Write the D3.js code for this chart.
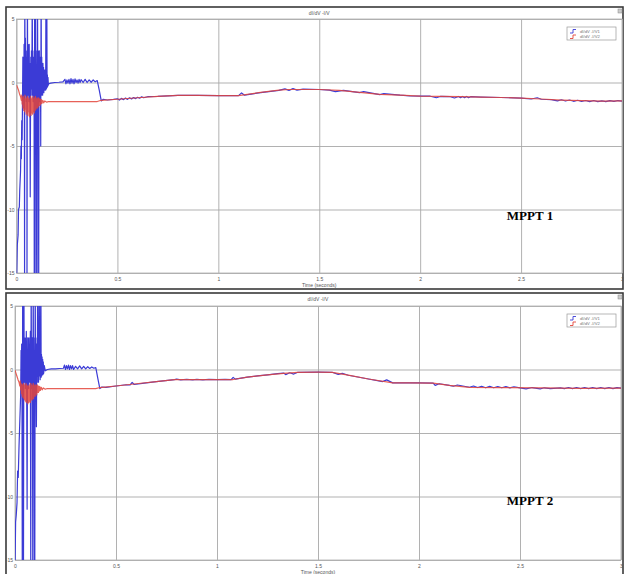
<!DOCTYPE html>
<html><head><meta charset="utf-8">
<script src="https://cdn.jsdelivr.net/npm/d3@7"></script>
<style>html,body{margin:0;padding:0;background:#fff}svg{display:block}</style>
</head><body>
<svg id="chart" width="624" height="574"></svg>
<script>
// ---- data ----
const tickX = [0, 0.5, 1, 1.5, 2, 2.5, 3];
const tickXLabels = ["0", "0.5", "1", "1.5", "2", "2.5", "3"];
const tickY = [5, 0, -5, -10, -15];
const tickYLabels = ["5", "0", "-5", "-10", "-15"];
const panelTitles = ["dI/dV   -I/V", "dI/dV   -I/V"];
const seriesNames = ["dI/dV   -I/V1", "dI/dV   -I/V2"];
const panelLabels = ["MPPT 1", "MPPT 2"];
const xTitle = "Time (seconds)";

// MPPT 1 : blue (series 1)
const p1Blue = [
 [0,-16],[0.004,-12.8],[0.008,-12],[0.01,-10],[0.014,-9.8],[0.016,-8.5],[0.02,-7],[0.022,-5],[0.024,-6],[0.026,-3],[0.028,-4.5],
 [0.030,-1],[0.0315,2],[0.033,-0.5],[0.0345,1.5],[0.036,-2],[0.0375,3],[0.039,-1],[0.04,-16],[0.041,8],[0.0425,0.5],
 [0.044,3.5],[0.0455,-1],[0.047,2.5],[0.0485,-1.5],[0.05,2],[0.0515,-0.5],[0.052,-16],[0.054,8],[0.0555,0],[0.057,3],
 [0.0585,-1],[0.06,2.5],[0.0615,-1.5],[0.063,3],[0.0645,-1],[0.066,1.5],[0.068,-9],[0.0695,-2],[0.071,2],[0.0725,-1],
 [0.074,2.5],[0.0755,-0.5],[0.077,3],[0.078,8],[0.0795,-1],[0.081,2.5],[0.0825,-1.5],[0.084,2],[0.0855,-1],[0.087,1.5],
 [0.088,-16],[0.09,8],[0.092,-16],[0.094,8],[0.0955,-1],[0.097,2.5],[0.0985,-1.5],[0.1,-16],[0.102,-16],[0.104,8],
 [0.1055,-1],[0.107,2.5],[0.1085,-1],[0.11,-16],[0.1115,0.5],[0.113,2.5],[0.1145,-1.5],[0.116,2],[0.1175,-1],[0.119,1.5],
 [0.12,-5],[0.122,8],[0.1235,-1],[0.125,2],[0.1265,-0.5],[0.128,1.5],[0.1295,-1],[0.131,1.5],[0.1325,-0.8],[0.134,1.2],
 [0.1355,-0.8],[0.137,1],[0.1385,-0.6],[0.14,0.8],[0.1415,-0.5],[0.143,1],[0.1445,-0.6],[0.146,8],[0.148,-0.5],[0.15,8],
 [0.1515,-0.4],[0.153,0.6],[0.1545,-0.3],[0.156,0.4],[0.158,-0.2],[0.16,-0.1],[0.17,-0.05],[0.19,0.0],[0.21,0.02],[0.23,0.05],
 [0.24,0.25],[0.245,-0.1],[0.25,0.2],[0.255,-0.05],[0.26,0.25],[0.265,-0.1],[0.27,0.3],[0.275,-0.05],[0.28,0.25],[0.285,-0.1],
 [0.29,0.28],[0.295,0.0],[0.3,0.2],[0.305,-0.05],[0.31,0.25],[0.315,0.0],[0.32,0.22],[0.33,0.0],[0.34,0.25],[0.35,0.0],
 [0.36,0.2],[0.37,0.02],[0.38,0.2],[0.39,0.05],[0.4,0.15],[0.41,-0.6],[0.42,-1.45],[0.43,-1.32],[0.45,-1.38],[0.48,-1.33],
 [0.5,-1.28],[0.51,-1.38],[0.52,-1.25],[0.53,-1.35],[0.54,-1.22],[0.55,-1.33],[0.56,-1.2],[0.57,-1.3],[0.58,-1.18],[0.59,-1.27],
 [0.6,-1.16],[0.61,-1.24],[0.62,-1.13],[0.63,-1.2],[0.65,-1.12],[0.7,-1.1],[0.75,-1.05],[0.8,-1.02],[0.9,-1.02],[1.0,-1.03],
 [1.1,-1.03],[1.115,-0.82],[1.13,-1.0],[1.2,-0.82],[1.3,-0.62],[1.33,-0.5],[1.35,-0.62],[1.37,-0.48],[1.39,-0.6],[1.42,-0.52],
 [1.5,-0.55],[1.55,-0.6],[1.58,-0.72],[1.62,-0.62],[1.7,-0.8],[1.72,-0.72],[1.8,-0.95],[1.82,-0.88],[1.9,-1.0],[1.95,-1.05],
 [2.0,-1.07],[2.05,-1.08],[2.08,-1.2],[2.1,-1.1],[2.15,-1.12],[2.17,-1.22],[2.19,-1.1],[2.2,-1.2],[2.21,-1.1],[2.22,-1.2],
 [2.23,-1.1],[2.24,-1.2],[2.25,-1.12],[2.3,-1.15],[2.4,-1.18],[2.5,-1.23],[2.55,-1.3],[2.58,-1.2],[2.6,-1.32],[2.65,-1.35],
 [2.68,-1.45],[2.7,-1.36],[2.72,-1.46],[2.74,-1.38],[2.76,-1.48],[2.78,-1.4],[2.8,-1.48],[2.82,-1.42],[2.84,-1.5],[2.86,-1.42],
 [2.88,-1.5],[2.9,-1.44],[2.92,-1.5],[2.94,-1.43],[2.96,-1.49],[2.98,-1.42],[3.0,-1.46]
];
// MPPT 1 : red (series 2)
const p1Red = [
 [0,-0.2],[0.005,-0.4],[0.01,-0.6],[0.015,-0.9],[0.02,-1.1],[0.024,-1.4],[0.026,-1.0],[0.028,-1.7],[0.03,-1.2],[0.032,-2.0],
 [0.034,-1.1],[0.036,-2.2],[0.038,-1.3],[0.04,-2.3],[0.042,-1.0],[0.044,-2.1],[0.046,-1.3],[0.048,-2.5],[0.05,-1.2],[0.052,-2.4],
 [0.054,-1.1],[0.056,-2.6],[0.058,-1.3],[0.06,-2.3],[0.062,-1.2],[0.064,-2.7],[0.066,-1.4],[0.068,-2.5],[0.07,-1.1],[0.072,-2.6],
 [0.074,-1.3],[0.076,-2.4],[0.078,-1.2],[0.08,-2.5],[0.082,-1.1],[0.084,-2.3],[0.086,-1.3],[0.088,-2.4],[0.09,-1.2],[0.092,-2.2],
 [0.094,-1.1],[0.096,-2.1],[0.098,-1.3],[0.1,-2.0],[0.102,-1.2],[0.104,-2.0],[0.106,-1.3],[0.108,-1.9],[0.11,-1.2],[0.112,-1.8],
 [0.114,-1.3],[0.116,-1.8],[0.118,-1.3],[0.12,-1.7],[0.123,-1.35],[0.126,-1.65],[0.13,-1.4],[0.135,-1.6],[0.14,-1.45],[0.15,-1.55],
 [0.16,-1.5],[0.4,-1.5],[0.42,-1.4],[0.5,-1.32],[0.6,-1.2],[0.7,-1.1],[0.8,-1.02],[0.9,-1.02],[1.0,-1.03],[1.1,-1.03],
 [1.2,-0.8],[1.3,-0.6],[1.35,-0.55],[1.5,-0.55],[1.6,-0.62],[1.7,-0.78],[1.8,-0.93],[1.9,-1.0],[2.0,-1.07],[2.1,-1.1],
 [2.2,-1.12],[2.3,-1.15],[2.4,-1.18],[2.5,-1.23],[2.6,-1.3],[2.7,-1.38],[2.8,-1.43],[2.9,-1.46],[3.0,-1.45]
];
// MPPT 2 : blue (series 1)
const p2Blue = [
 [0,-16],[0.003,-12],[0.006,-11.5],[0.01,-10.5],[0.013,-8],[0.016,-8.5],[0.02,-6],[0.024,-4],[0.028,-2],[0.03,1.5],
 [0.0315,-1],[0.033,2],[0.0345,-0.5],[0.036,-16],[0.038,8],[0.0395,0.5],[0.041,3],[0.042,-16],[0.044,8],[0.0455,-0.5],
 [0.047,2.5],[0.0485,-1],[0.05,2],[0.0515,-1.5],[0.053,2.5],[0.0545,-1],[0.056,3],[0.0575,-0.5],[0.06,-11],[0.0615,-1],
 [0.063,2.5],[0.0645,-0.5],[0.066,2],[0.0675,-1.5],[0.069,2.5],[0.0705,-1],[0.072,1.5],[0.0735,-0.5],[0.076,3],[0.078,-16],
 [0.08,8],[0.0815,-1],[0.083,2],[0.0845,-1.5],[0.086,2.5],[0.088,-16],[0.09,8],[0.0915,-0.5],[0.093,2.5],[0.0945,-1],
 [0.096,-16],[0.098,-16],[0.1,8],[0.1015,-1],[0.103,2.5],[0.1045,-1],[0.106,-4.5],[0.108,2],[0.1095,-0.5],[0.111,1.5],
 [0.112,8],[0.1135,-1],[0.115,2],[0.1165,-1],[0.118,1.5],[0.12,8],[0.1215,-0.5],[0.123,1.5],[0.1245,-0.8],[0.126,1.2],
 [0.128,8],[0.1295,-0.6],[0.131,1.2],[0.1325,-0.5],[0.134,1],[0.1355,-0.4],[0.137,0.8],[0.1385,-0.4],[0.14,0.6],[0.142,-0.3],
 [0.145,0.3],[0.15,-0.1],[0.16,0.0],[0.18,0.05],[0.2,0.05],[0.22,0.08],[0.24,0.1],[0.245,0.35],[0.25,0.0],[0.255,0.3],
 [0.26,0.05],[0.265,0.35],[0.27,0.0],[0.275,0.3],[0.28,0.05],[0.285,0.3],[0.29,0.0],[0.3,0.25],[0.31,0.05],[0.32,0.28],
 [0.33,0.05],[0.34,0.25],[0.35,0.05],[0.36,0.22],[0.37,0.08],[0.38,0.2],[0.39,0.1],[0.4,0.15],[0.41,-0.7],[0.42,-1.5],
 [0.43,-1.38],[0.45,-1.4],[0.5,-1.3],[0.55,-1.2],[0.57,-1.22],[0.58,-1.02],[0.59,-1.18],[0.65,-1.05],[0.7,-0.95],[0.79,-0.8],
 [0.8,-0.76],[0.82,-0.82],[0.85,-0.78],[0.88,-0.82],[0.9,-0.78],[0.93,-0.82],[0.96,-0.78],[1.0,-0.8],[1.04,-0.78],[1.07,-0.8],
 [1.08,-0.62],[1.09,-0.76],[1.15,-0.6],[1.2,-0.5],[1.25,-0.42],[1.3,-0.33],[1.33,-0.28],[1.34,-0.4],[1.36,-0.26],[1.38,-0.36],
 [1.4,-0.22],[1.5,-0.21],[1.57,-0.22],[1.6,-0.38],[1.62,-0.3],[1.65,-0.45],[1.75,-0.75],[1.82,-0.95],[1.84,-0.82],[1.87,-1.05],
 [1.95,-1.05],[2.0,-1.06],[2.07,-1.07],[2.08,-1.25],[2.1,-1.12],[2.15,-1.25],[2.17,-1.32],[2.19,-1.22],[2.25,-1.4],[2.27,-1.3],
 [2.29,-1.42],[2.31,-1.32],[2.33,-1.44],[2.35,-1.33],[2.37,-1.44],[2.39,-1.34],[2.41,-1.44],[2.43,-1.35],[2.45,-1.45],[2.47,-1.36],
 [2.5,-1.45],[2.53,-1.52],[2.56,-1.42],[2.6,-1.52],[2.62,-1.44],[2.65,-1.5],[2.7,-1.44],[2.72,-1.5],[2.74,-1.42],[2.76,-1.5],
 [2.78,-1.42],[2.8,-1.5],[2.82,-1.42],[2.84,-1.5],[2.86,-1.42],[2.88,-1.5],[2.9,-1.42],[2.92,-1.5],[2.94,-1.42],[2.96,-1.5],
 [2.98,-1.43],[3.0,-1.47]
];
// MPPT 2 : red (series 2)
const p2Red = [
 [0,-0.05],[0.005,-0.3],[0.01,-0.55],[0.015,-0.8],[0.02,-1.0],[0.024,-1.3],[0.026,-0.9],[0.028,-1.6],[0.03,-1.1],[0.032,-1.9],
 [0.034,-1.2],[0.036,-2.1],[0.038,-1.2],[0.04,-2.2],[0.042,-1.1],[0.044,-2.3],[0.046,-1.2],[0.048,-2.4],[0.05,-1.3],[0.052,-2.5],
 [0.054,-1.1],[0.056,-2.6],[0.058,-1.2],[0.06,-2.4],[0.062,-1.3],[0.064,-2.7],[0.066,-1.3],[0.068,-2.6],[0.07,-1.2],[0.072,-2.5],
 [0.074,-1.4],[0.076,-2.6],[0.078,-1.1],[0.08,-2.4],[0.082,-1.2],[0.084,-2.4],[0.086,-1.3],[0.088,-2.3],[0.09,-1.1],[0.092,-2.3],
 [0.094,-1.2],[0.096,-2.1],[0.098,-1.3],[0.1,-2.1],[0.102,-1.2],[0.104,-1.9],[0.106,-1.3],[0.108,-2.0],[0.11,-1.2],[0.112,-1.8],
 [0.114,-1.3],[0.116,-1.8],[0.118,-1.3],[0.12,-1.7],[0.123,-1.35],[0.126,-1.65],[0.13,-1.4],[0.135,-1.6],[0.14,-1.45],[0.15,-1.55],
 [0.16,-1.5],[0.4,-1.5],[0.42,-1.42],[0.5,-1.3],[0.6,-1.12],[0.7,-0.95],[0.79,-0.8],[0.9,-0.79],[1.0,-0.79],[1.08,-0.79],
 [1.15,-0.6],[1.25,-0.42],[1.33,-0.3],[1.4,-0.22],[1.5,-0.21],[1.57,-0.22],[1.65,-0.45],[1.75,-0.75],[1.87,-1.05],[1.95,-1.05],
 [2.07,-1.07],[2.15,-1.25],[2.25,-1.4],[2.4,-1.42],[2.6,-1.45],[2.8,-1.48],[3.0,-1.47]
];

// ---- layout ----
const panels = [
  {frame:{x:6,y:7,w:617,h:282}, plot:{x0:16.5,x1:622,y0:19,y1:273}, blue:p1Blue, red:p1Red, label:panelLabels[0], labelY:219.5, title:panelTitles[0]},
  {frame:{x:6,y:293,w:617,h:290}, plot:{x0:15,x1:621,y0:306,y1:560}, blue:p2Blue, red:p2Red, label:panelLabels[1], labelY:504.5, title:panelTitles[1]}
];
const BLUE = "#3b3bd6", RED = "#e3453b", GRID = "#a8a8a8";
const svg = d3.select("#chart");
svg.append("rect").attr("width",624).attr("height",574).attr("fill","#fff");

panels.forEach((p, i) => {
  const g = svg.append("g");
  const x = d3.scaleLinear().domain([0,3]).range([p.plot.x0, p.plot.x1]);
  const y = d3.scaleLinear().domain([-15,5]).range([p.plot.y1, p.plot.y0]);

  g.append("rect").attr("x",p.frame.x).attr("y",p.frame.y).attr("width",p.frame.w).attr("height",p.frame.h)
    .attr("fill","#fff").attr("stroke","#3a3a3a").attr("stroke-width",1.6);
  g.append("rect").attr("x",618).attr("y",p.frame.y+2).attr("width",4).attr("height",4)
    .attr("fill","#ccc").attr("stroke","#888").attr("stroke-width",0.5);
  g.append("text").attr("x",(p.plot.x0+p.plot.x1)/2).attr("y",p.frame.y+8).attr("text-anchor","middle")
    .attr("font-family","Liberation Sans, Arial, sans-serif").attr("font-size",5).attr("fill","#555").text(p.title);

  const xAxis = d3.axisBottom(x).tickValues(tickX).tickFormat((d,k)=>tickXLabels[k])
    .tickSize(-(p.plot.y1-p.plot.y0)).tickPadding(3);
  const yAxis = d3.axisLeft(y).tickValues(tickY).tickFormat((d,k)=>tickYLabels[k])
    .tickSize(-(p.plot.x1-p.plot.x0)).tickPadding(2);
  const gx = g.append("g").attr("transform",`translate(0,${p.plot.y1})`).call(xAxis);
  const gy = g.append("g").attr("transform",`translate(${p.plot.x0},0)`).call(yAxis);
  [gx, gy].forEach(a => {
    a.select(".domain").remove();
    a.selectAll("line").attr("stroke",GRID).attr("stroke-width",0.9);
    a.selectAll("text").attr("font-family","Liberation Sans, Arial, sans-serif").attr("font-size",5).attr("fill","#555");
  });
  gx.selectAll("text").attr("dy","0.9em");
  g.append("rect").attr("x",p.plot.x0).attr("y",p.plot.y0).attr("width",p.plot.x1-p.plot.x0).attr("height",p.plot.y1-p.plot.y0)
    .attr("fill","none").attr("stroke","#b0b0b0").attr("stroke-width",0.8);
  g.append("text").attr("x",(p.plot.x0+p.plot.x1)/2).attr("y",p.plot.y1+14).attr("text-anchor","middle")
    .attr("font-family","Liberation Sans, Arial, sans-serif").attr("font-size",5).attr("fill","#555").text(xTitle);

  const cid = "clip"+i;
  svg.append("clipPath").attr("id",cid).append("rect")
    .attr("x",p.plot.x0).attr("y",p.plot.y0).attr("width",p.plot.x1-p.plot.x0).attr("height",p.plot.y1-p.plot.y0);
  const line = d3.line().x(d=>x(d[0])).y(d=>y(d[1]));
  const lg = g.append("g").attr("clip-path",`url(#${cid})`);
  lg.append("path").datum(p.blue).attr("d",line).attr("fill","none").attr("stroke",BLUE).attr("stroke-width",1.2).attr("stroke-linejoin","round");
  lg.append("path").datum(p.red).attr("d",line).attr("fill","none").attr("stroke",RED).attr("stroke-width",1.2).attr("stroke-opacity",0.85).attr("stroke-linejoin","round");

  const lx = 567, ly = p.plot.y0 + 8;
  const leg = g.append("g");
  leg.append("rect").attr("x",lx).attr("y",ly).attr("width",49).attr("height",13)
    .attr("fill","#fff").attr("stroke","#999").attr("stroke-width",0.7);
  [BLUE, RED].forEach((c, k) => {
    const yy = ly + 4 + k*5.5;
    leg.append("path").attr("d",`M${lx+3},${yy+2} L${lx+6},${yy+2} L${lx+6},${yy-1.5} L${lx+9},${yy-1.5}`)
      .attr("fill","none").attr("stroke",c).attr("stroke-width",0.9);
    leg.append("text").attr("x",lx+13).attr("y",yy+1.8).attr("font-family","Liberation Sans, Arial, sans-serif")
      .attr("font-size",4.2).attr("fill","#777").text(seriesNames[k]);
  });

  g.append("text").attr("x",530).attr("y",p.labelY).attr("text-anchor","middle")
    .attr("font-family","Liberation Serif, Times New Roman, serif").attr("font-weight","bold")
    .attr("font-size",13).attr("fill","#000").text(p.label);
});
</script>
</body></html>
